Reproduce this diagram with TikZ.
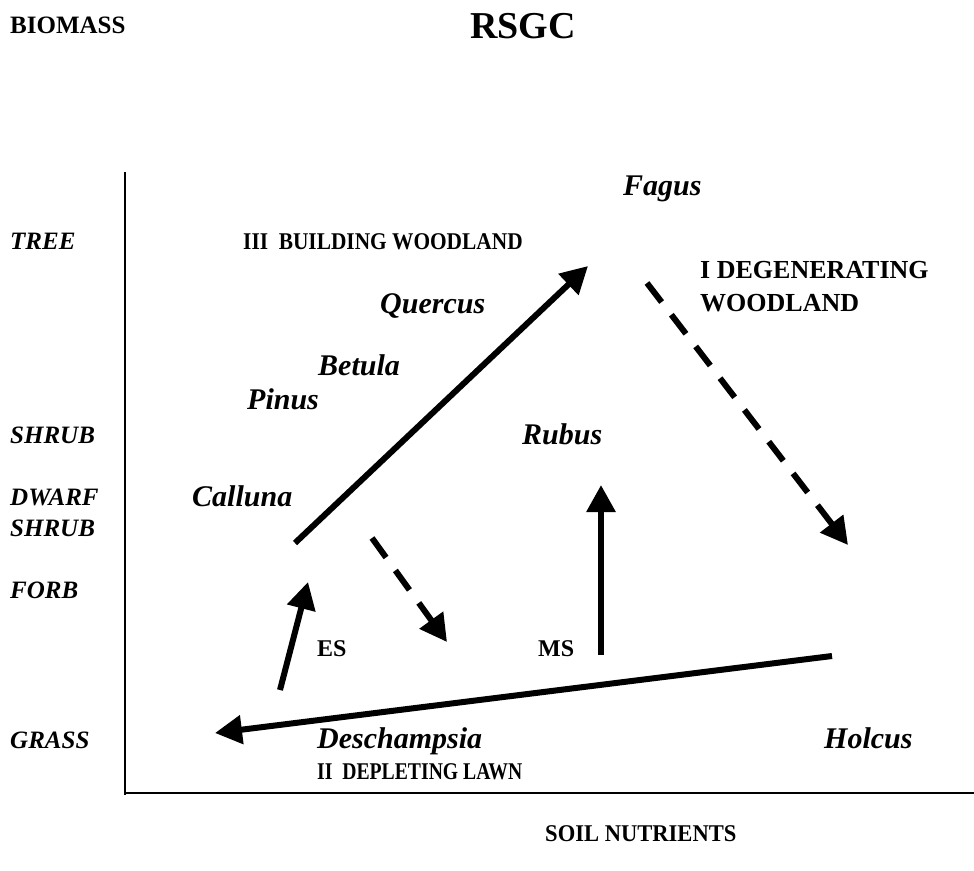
\documentclass[tikz,border=0pt]{standalone}
\usepackage{fontspec}
\usepackage{graphicx}
\setmainfont{Liberation Serif}
\usetikzlibrary{arrows.meta}
\begin{document}
\begin{tikzpicture}[x=1pt,y=-1pt,
  lab/.style={anchor=base west,inner sep=0pt,font=\fontsize{24}{28}\selectfont\bfseries},
  axl/.style={anchor=base west,inner sep=0pt,font=\fontsize{25}{29}\selectfont\bfseries\itshape},
  sp/.style={anchor=base west,inner sep=0pt,font=\fontsize{30}{34}\selectfont\bfseries\itshape},
  axis/.style={line width=1.6pt},
  arr/.style={line width=6pt,-{Triangle[length=27pt,width=28pt]}},
  darr/.style={arr,dash pattern=on 24pt off 16pt}]
\useasboundingbox (0,0) rectangle (974,870);
% titles
\node[lab,font=\fontsize{25}{29}\selectfont\bfseries] (biomass) at (10,33) {BIOMASS};
\node[lab,font=\fontsize{38}{43}\selectfont\bfseries] (rsgc) at (470,38) {RSGC};
% axes
\coordinate (ytop) at (125,172);
\coordinate (orig) at (125,795);
\coordinate (xbeg) at (125,793);
\coordinate (xend) at (974,793);
\draw[axis] (ytop) -- (orig);
\draw[axis] (xbeg) -- (xend);
% axis labels
\node[axl] (tree) at (10,249) {TREE};
\node[axl] (shrub) at (10,443) {SHRUB};
\node[axl] (dwarf) at (10,505) {DWARF};
\node[axl] (dshrub) at (10,536) {SHRUB};
\node[axl] (forb) at (10,598) {FORB};
\node[axl] (grass) at (10,748) {GRASS};
\node[lab] (soil) at (545,841) {\scalebox{0.94}[1]{SOIL NUTRIENTS}};
% phase labels
\node[lab] (build) at (243,249) {\scalebox{0.89}[1]{III\ \ BUILDING WOODLAND}};
\node[lab,font=\fontsize{26}{30}\selectfont\bfseries] (degen) at (700,278) {I DEGENERATING};
\node[lab,font=\fontsize{26}{30}\selectfont\bfseries] (degen2) at (700,311) {WOODLAND};
\node[lab] (lawn) at (317,779) {\scalebox{0.82}[1]{II\ \ DEPLETING LAWN}};
\node[lab] (es) at (317,656) {ES};
\node[lab] (ms) at (538,656) {MS};
% species
\node[sp] (fagus) at (623,195) {Fagus};
\node[sp] (quercus) at (380,313) {Quercus};
\node[sp] (betula) at (318,375) {Betula};
\node[sp] (pinus) at (247,409) {Pinus};
\node[sp] (rubus) at (522,444) {Rubus};
\node[sp] (calluna) at (192,506) {Calluna};
\node[sp] (desch) at (317,748) {Deschampsia};
\node[sp] (holcus) at (824,748) {Holcus};
% arrow end points
\coordinate (a1s) at (295,543);
\coordinate (a1e) at (588,266);
\coordinate (a2s) at (647,283);
\coordinate (a2e) at (848,545);
\coordinate (a3s) at (832,656);
\coordinate (a3e) at (215,733);
\coordinate (a4s) at (280,690);
\coordinate (a4e) at (308,582);
\coordinate (a5s) at (372,538);
\coordinate (a5e) at (447,642);
\coordinate (a6s) at (601,655);
\coordinate (a6e) at (601,485);
\draw[arr] (a1s) -- (a1e);
\draw[darr] (a2s) -- (a2e);
\draw[arr] (a3s) -- (a3e);
\draw[arr] (a4s) -- (a4e);
\draw[darr] (a5s) -- (a5e);
\draw[arr] (a6s) -- (a6e);
\end{tikzpicture}
\end{document}
